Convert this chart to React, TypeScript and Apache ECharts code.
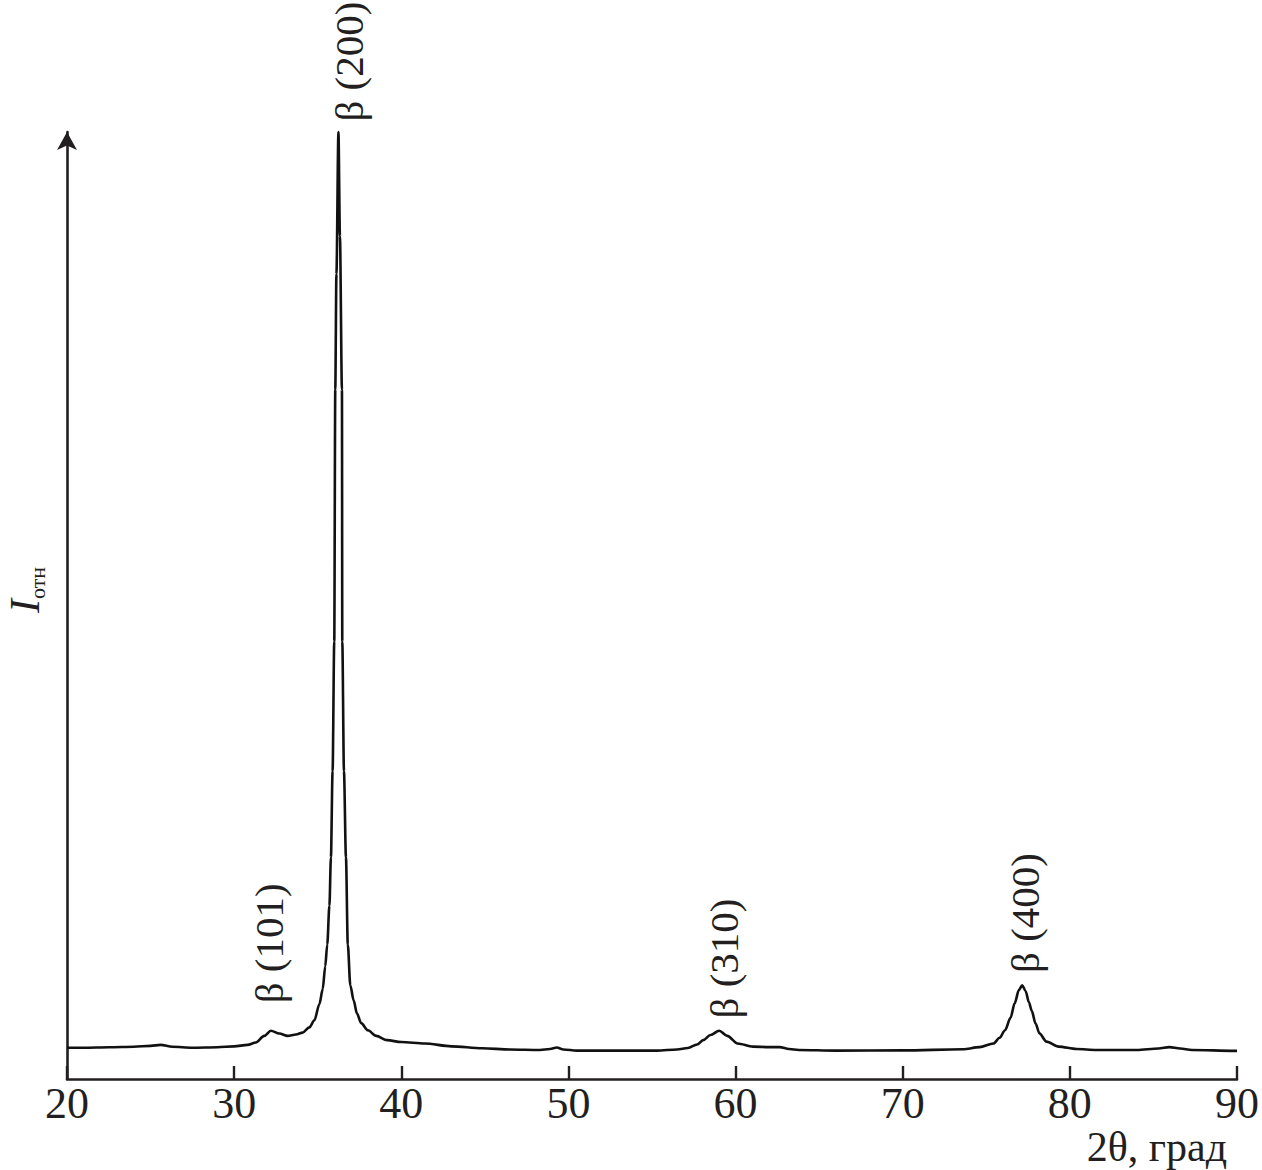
import React, { useEffect, useRef } from "react";
import * as echarts from "echarts";

// 2θ (degrees) and relative intensity
const twoTheta = [
  20.0, 21.0, 22.5, 24.0, 25.0, 25.6, 26.3, 27.5, 29.0, 30.0, 30.8, 31.3, 31.8, 32.2, 32.7, 33.2, 33.7,
  34.1, 34.5, 34.8, 35.1, 35.3, 35.45, 35.57, 35.7, 35.79, 35.89, 35.99, 36.05, 36.12, 36.24, 36.33,
  36.45, 36.47, 36.57, 36.69, 36.8, 36.95, 37.15, 37.35, 37.6, 38.0, 38.5, 39.15, 40.0, 41.4, 43.0,
  44.85, 46.5, 48.3, 48.9, 49.3, 49.7, 50.5, 52.0, 55.3, 56.5, 57.15, 57.7, 58.06, 58.5, 59.02, 59.5,
  60.12, 61.04, 62.0, 62.64, 63.2, 63.78, 66.0, 70.0, 73.6, 74.6, 75.43, 75.8, 76.12, 76.45, 76.7,
  76.95, 77.15, 77.35, 77.55, 77.72, 77.95, 78.18, 78.6, 79.33, 80.4, 81.6, 84.0, 85.3, 85.95, 86.6,
  87.3, 89.84, 90.0,
];
const intensity = [
  3.3, 3.3, 3.35, 3.4, 3.5, 3.6, 3.4, 3.3, 3.35, 3.45, 3.6, 3.85, 4.55, 5.1, 4.8, 4.55, 4.7,
  4.9, 5.45, 6.2, 7.9, 9.5, 11.9, 14.2, 18.3, 23.4, 32.5, 46.2, 72.8, 85, 100, 89,
  72.8, 46.2, 32.5, 23.4, 14.2, 9.9, 8.3, 6.9, 5.9, 5.15, 4.55, 4.1, 3.9, 3.75, 3.45,
  3.25, 3.12, 3.07, 3.17, 3.32, 3.12, 3.0, 3.0, 3.0, 3.12, 3.27, 3.65, 4.1, 4.65, 5.1, 4.55,
  3.75, 3.42, 3.37, 3.37, 3.17, 3.07, 3.0, 3.02, 3.14, 3.37, 3.75, 4.35, 5.15, 6.45, 8.0,
  9.4, 9.9, 9.3, 8.1, 7.2, 5.85, 4.82, 3.95, 3.42, 3.17, 3.07, 3.07, 3.22, 3.37, 3.22,
  3.07, 2.97, 2.97,
];

const xMin = 20;
const xMax = 90;
const xStep = 10;

// peak annotations: text, anchor (bottom of rotated text) in data units
const peakLabels = ["β (101)", "β (200)", "β (310)", "β (400)"];
const peakLabelX = [32.11, 36.88, 59.31, 77.33];
const peakLabelY = [8.0, 101.1, 6.4, 11.2];

const xAxisTitle = "2θ, град";
const yAxisMain = "I";
const yAxisSub = "отн";

const FONT = "'Liberation Serif', 'Times New Roman', serif";
const INK = "#231f20";

export default function App() {
  const ref = useRef<HTMLDivElement>(null);

  useEffect(() => {
    document.body.style.margin = "0";
    if (!ref.current) return;
    const chart = echarts.init(ref.current, null, { renderer: "svg" });
    const data = twoTheta.map((t, i) => [t, intensity[i]]);
    chart.setOption({
      animation: false,
      backgroundColor: "#ffffff",
      grid: { left: 67, right: 21.5, top: 132, bottom: 91, containLabel: false },
      xAxis: {
        type: "value",
        min: xMin,
        max: xMax,
        interval: xStep,
        axisLine: { show: true, lineStyle: { color: INK, width: 2.6 } },
        axisTick: { show: true, inside: true, length: 13, lineStyle: { color: INK, width: 2.4 } },
        axisLabel: { color: INK, fontFamily: FONT, fontSize: 44, margin: 2 },
        splitLine: { show: false },
      },
      yAxis: {
        type: "value",
        min: 0,
        max: 100,
        axisLine: {
          show: true,
          symbol: ["none", "arrow"],
          symbolSize: [15, 18],
          lineStyle: { color: INK, width: 2.6 },
        },
        axisTick: { show: false },
        axisLabel: { show: false },
        splitLine: { show: false },
      },
      series: [
        {
          type: "line",
          data,
          showSymbol: false,
          symbol: "none",
          smooth: 0.3,
          smoothMonotone: "x",
          clip: false,
          lineStyle: { color: "#111111", width: 2.6 },
        },
      ],
    });

    const graphics: any[] = [];
    peakLabels.forEach((txt, i) => {
      const p = chart.convertToPixel({ gridIndex: 0 }, [peakLabelX[i], peakLabelY[i]]) as number[];
      graphics.push({
        type: "text",
        x: p[0],
        y: p[1],
        rotation: Math.PI / 2,
        style: {
          text: txt,
          fill: INK,
          fontFamily: FONT,
          fontSize: 41,
          align: "left",
          verticalAlign: "middle",
          textAlign: "left",
          textVerticalAlign: "middle",
        },
      });
    });
    graphics.push({
      type: "text",
      x: 1227,
      y: 1147,
      style: {
        text: xAxisTitle,
        fill: INK,
        fontFamily: FONT,
        fontSize: 42,
        align: "right",
        verticalAlign: "middle",
        textAlign: "right",
        textVerticalAlign: "middle",
      },
    });
    graphics.push({
      type: "text",
      x: 25,
      y: 590,
      rotation: Math.PI / 2,
      style: {
        text: "{i|" + yAxisMain + "}{s|" + yAxisSub + "}",
        fill: INK,
        align: "center",
        verticalAlign: "middle",
        textAlign: "center",
        textVerticalAlign: "middle",
        rich: {
          i: { fontFamily: FONT, fontSize: 42, fontStyle: "italic", lineHeight: 46, fill: INK },
          s: { fontFamily: FONT, fontSize: 22, lineHeight: 22, verticalAlign: "bottom", fill: INK },
        },
      },
    });
    chart.setOption({ graphic: { elements: graphics } });

    return () => chart.dispose();
  }, []);

  return <div ref={ref} style={{ width: 1262, height: 1170 }} />;
}
